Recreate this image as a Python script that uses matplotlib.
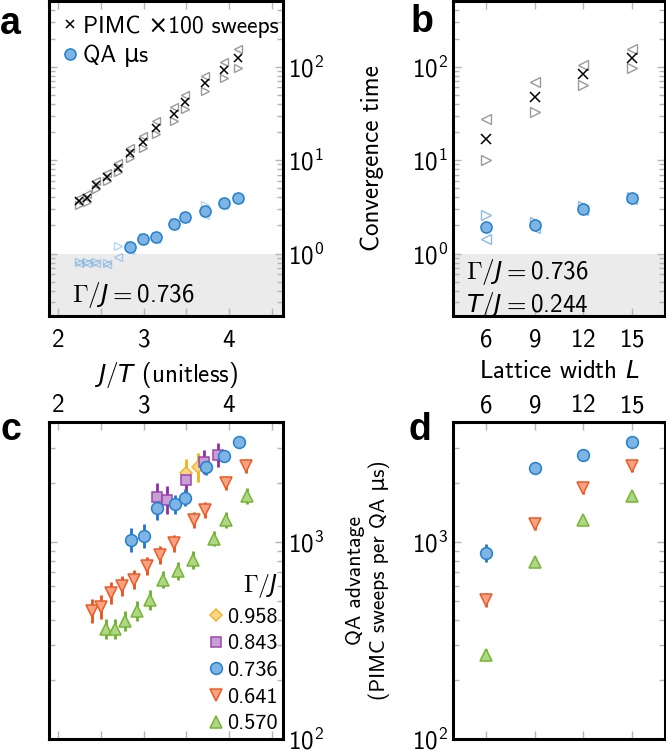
import numpy as np
import matplotlib
matplotlib.use('Agg')
import matplotlib.pyplot as plt
from matplotlib.lines import Line2D
from matplotlib.ticker import MultipleLocator, LogLocator, NullFormatter

plt.rcParams['font.family'] = ['cmss10', 'DejaVu Sans']
plt.rcParams['mathtext.fontset'] = 'custom'
plt.rcParams['mathtext.rm'] = 'cmss10'
plt.rcParams['mathtext.sf'] = 'cmss10'
plt.rcParams['mathtext.it'] = 'DejaVu Sans:italic'
plt.rcParams['axes.formatter.use_mathtext'] = True
plt.rcParams['axes.unicode_minus'] = False

# ---- panel a: convergence time vs J/T (Gamma/J = 0.736)
jt = [2.242, 2.339, 2.449, 2.573, 2.698, 2.846, 2.994, 3.143, 3.361, 3.482, 3.724, 3.938, 4.105]
pimc = [3.62, 3.97, 5.46, 6.59, 8.3, 11.9, 15.6, 22.2, 31.3, 41.6, 66.4, 92.1, 123.8]
pimc_hi = [3.95, 4.35, 6.0, 7.3, 9.3, 13.6, 18.0, 26.0, 37.5, 50.0, 80.0, 112, 154]
pimc_lo = [3.3, 3.6, 4.95, 5.95, 7.4, 10.5, 13.5, 19.0, 26.5, 35.0, 55.0, 76, 98]
qa = [None, None, None, None, None, 1.18, 1.45, 1.49, 2.10, 2.47, 2.86, 3.48, 3.93]
qa_hi = [0.82, 0.82, 0.82, 0.80, 1.21, 1.25, 1.5, 1.55, 2.2, 2.55, 3.29, 3.6, 4.05]
qa_lo = [0.79, 0.79, 0.79, 0.78, 0.93, 1.1, 1.4, 1.42, 2.0, 2.4, 2.57, 3.35, 3.8]

# ---- panel b: convergence time vs L (Gamma/J = 0.736, T/J = 0.244)
L = [6, 9, 12, 15]
pimc_L = [16.9, 47.0, 83.5, 123.8]
pimc_L_hi = [27.7, 68, 105, 154]
pimc_L_lo = [10.1, 33.1, 64.3, 98]
qa_L = [1.93, 2.04, 3.03, 3.93]
qa_L_hi = [2.57, 2.2, 3.2, 4.05]
qa_L_lo = [1.45, 1.9, 2.9, 3.8]

# ---- panel c: QA advantage vs J/T
gammas = ['0.958', '0.843', '0.736', '0.641', '0.570']
c_x = {
    '0.958': [3.493, 3.640],
    '0.843': [3.163, 3.272, 3.497, 3.706, 3.872],
    '0.736': [2.853, 3.0, 3.156, 3.369, 3.485, 3.726, 3.938, 4.116],
    '0.641': [2.400, 2.505, 2.621, 2.749, 2.884, 3.040, 3.194, 3.357, 3.590, 3.717, 3.962, 4.194],
    '0.570': [2.566, 2.671, 2.787, 2.923, 3.070, 3.233, 3.407, 3.574, 3.822, 3.962, 4.209],
}
c_y = {
    '0.958': [2250, 2390],
    '0.843': [1692, 1629, 2059, 2551, 2758],
    '0.736': [1020, 1069, 1480, 1549, 1680, 2405, 2723, 3198],
    '0.641': [445, 467, 551, 596, 644, 753, 855, 982, 1289, 1449, 1982, 2427],
    '0.570': [363, 363, 396, 445, 509, 644, 710, 807, 1040, 1289, 1708],
}
c_err = {  # half-width of the error bar, in decades
    '0.958': [0.07, 0.075],
    '0.843': [0.07, 0.07, 0.065, 0.06, 0.06],
    '0.736': [0.06, 0.06, 0.06, 0.05, 0.045, 0.04, 0.03, 0.03],
    '0.641': [0.06, 0.06, 0.055, 0.05, 0.05, 0.045, 0.045, 0.045, 0.04, 0.04, 0.035, 0.035],
    '0.570': [0.05, 0.05, 0.05, 0.05, 0.05, 0.045, 0.045, 0.045, 0.04, 0.04, 0.04],
}

# ---- panel d: QA advantage vs L
d_y = {
    '0.736': [880, 2361, 2760, 3198],
    '0.641': [509, 1231, 1884, 2432],
    '0.570': [266, 791, 1289, 1708],
}
d_err = {
    '0.736': [0.045, 0.02, 0.02, 0.02],
    '0.641': [0.035, 0.03, 0.03, 0.03],
    '0.570': [0.03, 0.025, 0.025, 0.025],
}

styles = {
    '0.958': dict(marker='D', mfc='#fad68a', mec='#f2b52c', ec='#f2b20f', ms=6.5),
    '0.843': dict(marker='s', mfc='#c79fd3', mec='#9b45b2', ec='#8e2ea5', ms=7.5),
    '0.736': dict(marker='o', mfc='#7eb4e3', mec='#2280cf', ec='#1f78c8', ms=8.5),
    '0.641': dict(marker='v', mfc='#f7a383', mec='#ec5b25', ec='#e8501a', ms=8.5),
    '0.570': dict(marker='^', mfc='#aed683', mec='#76b536', ec='#6aae2a', ms=8.5),
}

W, H = 666, 751
fig = plt.figure(figsize=(W / 100, H / 100), dpi=100)

def box(x0, y0, x1, y1):
    return [x0 / W, 1 - y1 / H, (x1 - x0) / W, (y1 - y0) / H]

ax_a = fig.add_axes(box(49, 1, 283, 316))
ax_b = fig.add_axes(box(453, 1, 665, 316))
ax_c = fig.add_axes(box(49, 422, 283, 739))
ax_d = fig.add_axes(box(453, 422, 665, 739))

TICK = 18
LAB = 18

for ax in (ax_a, ax_b, ax_c, ax_d):
    ax.set_yscale('log')
    for s in ax.spines.values():
        s.set_linewidth(2.2)
    ax.tick_params(which='both', direction='in', color='#b5b5b5', top=True, bottom=True,
                   left=True, right=True, labelsize=TICK, width=1)
    ax.tick_params(which='major', length=6)
    ax.tick_params(which='minor', length=4)
    ax.yaxis.set_major_locator(LogLocator(base=10, numticks=10))
    ax.yaxis.set_minor_locator(LogLocator(base=10, subs=np.arange(2, 10), numticks=20))
    ax.yaxis.set_minor_formatter(NullFormatter())

for ax in (ax_a, ax_c):
    ax.set_xlim(1.895, 4.63)
    ax.xaxis.set_major_locator(MultipleLocator(1))
    ax.xaxis.set_minor_locator(MultipleLocator(0.5))
    ax.tick_params(which='minor', axis='x', length=6)
    ax.tick_params(axis='y', labelleft=False, labelright=True)
for ax in (ax_b, ax_d):
    ax.set_xlim(3.97, 17.03)
    ax.set_xticks(L)

for ax in (ax_a, ax_b):
    ax.set_ylim(0.215, 505)
    ax.axhspan(0.215, 1.0, color='#ebebeb', zorder=0, lw=0)
    ax.tick_params(axis='x', which='major', pad=9)
for ax in (ax_c, ax_d):
    ax.set_ylim(100, 4060)
    ax.tick_params(axis='x', labelbottom=False, labeltop=True)

gray = '#9a9a9a'
lblue = '#5aa0dc'

# panel a
ax_a.plot(jt, pimc_hi, ls='none', marker='<', mfc='none', mec=gray, ms=6, mew=1)
ax_a.plot(jt, pimc_lo, ls='none', marker='>', mfc='none', mec=gray, ms=6, mew=1)
ax_a.plot(jt, pimc, ls='none', marker='x', color='black', ms=6, mew=1.1)
ax_a.plot(jt, qa_hi, ls='none', marker='>', mfc='none', mec=lblue, ms=6, mew=1, alpha=0.45)
ax_a.plot(jt, qa_lo, ls='none', marker='<', mfc='none', mec=lblue, ms=6, mew=1, alpha=0.45)
qa_x = [x for x, q in zip(jt, qa) if q is not None]
qa_v = [q for q in qa if q is not None]
ax_a.plot(qa_x, qa_v, ls='none', marker='o', mfc='#7eb4e3', mec='#2280cf', ms=8, mew=1.1)
ax_a.set_xlabel(r'$J/T$ (unitless)', fontsize=LAB, labelpad=6)
ax_a.text(0.1, 0.067, r'$\Gamma/J = 0.736$', transform=ax_a.transAxes, fontsize=LAB,
          ha='left', va='center')
leg_a = [Line2D([], [], ls='none', marker='x', color='black', ms=6, mew=1.1),
         Line2D([], [], ls='none', marker='o', mfc='#7eb4e3', mec='#2280cf', ms=8, mew=1.1)]
ax_a.legend(leg_a, ['PIMC \u00d7100 sweeps', 'QA \u03bcs'], loc='upper left', frameon=False,
            fontsize=17, handlelength=0.6, handletextpad=0.25, borderaxespad=0.2,
            labelspacing=0.3)

# panel b
ax_b.plot(L, pimc_L_hi, ls='none', marker='<', mfc='none', mec=gray, ms=7, mew=1)
ax_b.plot(L, pimc_L_lo, ls='none', marker='>', mfc='none', mec=gray, ms=7, mew=1)
ax_b.plot(L, pimc_L, ls='none', marker='x', color='black', ms=7, mew=1.1)
ax_b.plot(L, qa_L_hi, ls='none', marker='>', mfc='none', mec=lblue, ms=7, mew=1, alpha=0.7)
ax_b.plot(L, qa_L_lo, ls='none', marker='<', mfc='none', mec=lblue, ms=7, mew=1, alpha=0.7)
ax_b.plot(L, qa_L, ls='none', marker='o', mfc='#7eb4e3', mec='#2280cf', ms=8, mew=1.1)
ax_b.set_xlabel(r'Lattice width $L$', fontsize=LAB, labelpad=6)
ax_b.set_ylabel('Convergence time', fontsize=LAB, labelpad=20)
ax_b.text(0.06, 0.14, r'$\Gamma/J = 0.736$', transform=ax_b.transAxes, fontsize=LAB,
          ha='left', va='center')
ax_b.text(0.06, 0.035, r'$T/J = 0.244$', transform=ax_b.transAxes, fontsize=LAB,
          ha='left', va='center')

# panel c
handles = []
for g in gammas:
    st = styles[g]
    y = np.array(c_y[g], float)
    f = 10 ** np.array(c_err[g])
    ax_c.errorbar(c_x[g], y, yerr=[y - y / f, y * f - y], ls='none', marker=st['marker'],
                  mfc=st['mfc'], mec=st['mec'], ms=st['ms'], mew=1.1, ecolor=st['ec'],
                  elinewidth=2, capsize=0)
    handles.append(Line2D([], [], ls='none', marker=st['marker'], mfc=st['mfc'],
                          mec=st['mec'], ms=st['ms'], mew=1.1))
ax_c.legend(handles, gammas, title=r'$\Gamma/J$', loc='lower right', frameon=False,
            fontsize=16, title_fontsize=17, handlelength=0.6, handletextpad=0.2,
            labelspacing=0.32, borderpad=0.1, borderaxespad=0.15, alignment='right')

# panel d
for g in ['0.736', '0.641', '0.570']:
    st = styles[g]
    y = np.array(d_y[g], float)
    f = 10 ** np.array(d_err[g])
    ax_d.errorbar(L, y, yerr=[y - y / f, y * f - y], ls='none', marker=st['marker'],
                  mfc=st['mfc'], mec=st['mec'], ms=st['ms'], mew=1.1, ecolor=st['ec'],
                  elinewidth=2, capsize=0)
ax_d.set_ylabel('QA advantage\n(PIMC sweeps per QA \u03bcs)', fontsize=15.5, labelpad=16)

# panel letters
for lab, x, y in [('a', 0, 34), ('b', 411, 32), ('c', 0, 440), ('d', 409, 440)]:
    fig.text(x / W, 1 - y / H, lab, fontsize=27, fontweight='bold',
             family='Liberation Sans', va='baseline', ha='left')

fig.savefig('out.png', dpi=100)
